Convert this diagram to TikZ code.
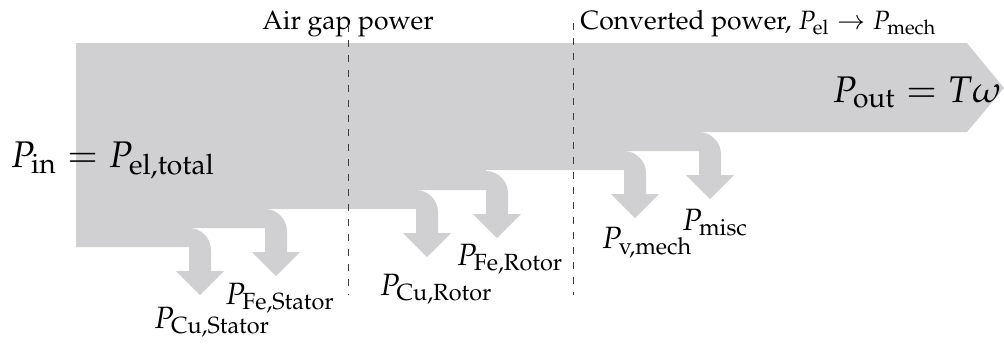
\documentclass[tikz,border=0pt]{standalone}
\usepackage[T1]{fontenc}
\usepackage{mathpazo}
\usepackage{amsmath}
\usetikzlibrary{positioning}
\definecolor{flowGray}{RGB}{208,207,210}
\definecolor{lineGray}{RGB}{60,60,60}

\begin{document}
\begin{tikzpicture}[x=0.0146cm, y=-0.0146cm,
    flow/.style={fill=flowGray, draw=none},
    sep/.style={thin, color=lineGray, dash pattern=on 2.9pt off 3.3pt},
    head/.style={font=\fontsize{11}{13}\selectfont, inner sep=0pt, anchor=base},
    loss/.style={font=\fontsize{12.8}{15}\selectfont, inner sep=0pt, anchor=base},
    big/.style={font=\fontsize{15.4}{18}\selectfont, inner sep=0pt}
    ]
    \useasboundingbox (0,0) rectangle (1004,343);
    % main power flow, steps down after each loss
    \fill[flow] (76,43) -- (967,43) -- (1004,88) -- (967,132) -- (699,132) -- (699,151)
        -- (624,151) -- (624,170) -- (486,170) -- (486,190) -- (416,190) -- (416,209)
        -- (265,209) -- (265,228) -- (189,228) -- (189,247) -- (76,247) -- cycle;

    % loss arrows: shaft centre / lower edge / label position / name / label
    \foreach \xc/\yb/\lx/\ly/\name/\lbl in {
        200/247/212/328/pCuS/{P_{\text{Cu,Stator}}},
        276/228/280/304/pFeS/{P_{\text{Fe,Stator}}},
        427/209/436/295/pCuR/{P_{\text{Cu,Rotor}}},
        497/190/510/265/pFeR/{P_{\text{Fe,Rotor}}},
        635/170/647/248/pVm/{P_{\text{v,mech}}},
        710/151/715/230/pMisc/{P_{\text{misc}}}}{
        \fill[flow] (\xc-11,\yb-19) -- (\xc-11,\yb+24) -- (\xc-24,\yb+24) -- (\xc,\yb+48)
            -- (\xc+24,\yb+24) -- (\xc+11,\yb+24) -- (\xc+11,\yb+3)
            .. controls (\xc+11,\yb-9) and (\xc+1,\yb-19) .. (\xc-11,\yb-19) -- cycle;
        \node[loss] (\name) at (\lx,\ly) {$\lbl$};
    }

    % boundaries
    \node[head] (airgap) at (348,29) {Air gap power};
    \node[head, anchor=base west] (conv) at (580,29) {Converted power, $P_{\text{el}} \rightarrow P_{\text{mech}}$};
    \draw[sep] (348,25) -- (348,295);
    \draw[sep] (573,23) -- (573,295);

    \node[big, anchor=base west] (pin) at (10,167) {$P_{\text{in}} = P_{\text{el,total}}$};
    \node[big, anchor=base east] (pout) at (1002,102) {$P_{\text{out}} = T\omega$};
\end{tikzpicture}
\end{document}
